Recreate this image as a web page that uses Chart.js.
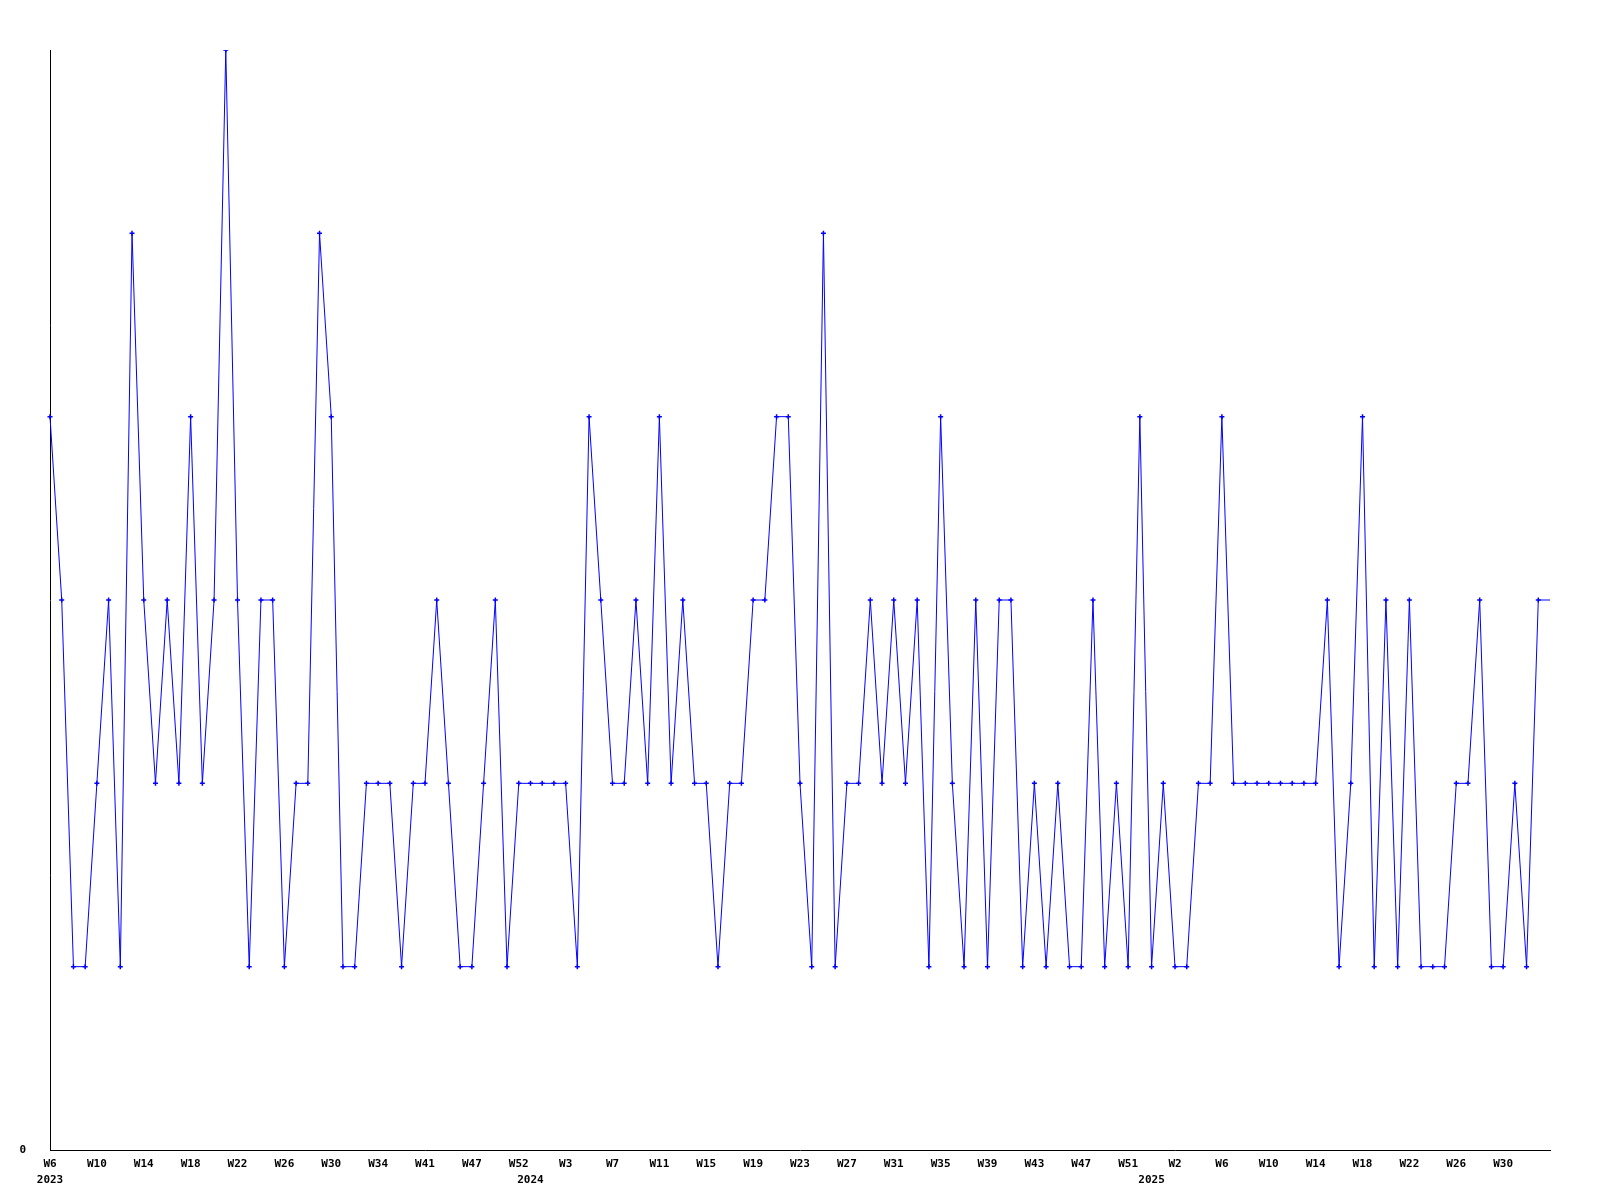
<!DOCTYPE html>
<html>
<head>
<meta charset="utf-8">
<script src="https://cdn.jsdelivr.net/npm/chart.js@4.4.1/dist/chart.umd.min.js"></script>
<style>
    html, body { margin: 0; padding: 0; background: #fff; }
    #wrap { width: 1600px; height: 1200px; }
</style>
</head>
<body>
<div id="wrap"><canvas id="weeklyChart" width="1600" height="1200"></canvas></div>
<script>
"use strict";

// categories: year-week, weeks with no entry are skipped
const weeks2023 = ['W6', 'W7', 'W8', 'W9', 'W10', 'W11', 'W12', 'W13', 'W14', 'W15',
    'W16', 'W17', 'W18', 'W19', 'W20', 'W21', 'W22', 'W23', 'W24', 'W25',
    'W26', 'W27', 'W28', 'W29', 'W30', 'W31', 'W32', 'W33', 'W34', 'W35',
    'W37', 'W39', 'W41', 'W42', 'W44', 'W45', 'W47', 'W48', 'W49', 'W51', 'W52'];
const weeks2024 = ['W0', 'W1', 'W2', 'W3', 'W4', 'W5', 'W6', 'W7', 'W8', 'W9',
    'W10', 'W11', 'W12', 'W13', 'W14', 'W15', 'W16', 'W17', 'W18', 'W19',
    'W20', 'W21', 'W22', 'W23', 'W24', 'W25', 'W26', 'W27', 'W28', 'W29',
    'W30', 'W31', 'W32', 'W33', 'W34', 'W35', 'W36', 'W37', 'W38', 'W39',
    'W40', 'W41', 'W42', 'W43', 'W44', 'W45', 'W46', 'W47', 'W48', 'W49',
    'W50', 'W51', 'W52'];
const weeks2025 = ['W0', 'W1', 'W2', 'W3', 'W4', 'W5', 'W6', 'W7', 'W8', 'W9',
    'W10', 'W11', 'W12', 'W13', 'W14', 'W15', 'W16', 'W17', 'W18', 'W19',
    'W20', 'W21', 'W22', 'W23', 'W24', 'W25', 'W26', 'W27', 'W28', 'W29',
    'W30', 'W31', 'W32', 'W33', 'W34'];

const counts2023 = [4, 3, 1, 1, 2, 3, 1, 5, 3, 2,
    3, 2, 4, 2, 3, 6, 3, 1, 3, 3,
    1, 2, 2, 5, 4, 1, 1, 2, 2, 2,
    1, 2, 2, 3, 2, 1, 1, 2, 3, 1, 2];
const counts2024 = [2, 2, 2, 2, 1, 4, 3, 2, 2, 3,
    2, 4, 2, 3, 2, 2, 1, 2, 2, 3,
    3, 4, 4, 2, 1, 5, 1, 2, 2, 3,
    2, 3, 2, 3, 1, 4, 2, 1, 3, 1,
    3, 3, 1, 2, 1, 2, 1, 1, 3, 1,
    2, 1, 4];
const counts2025 = [1, 2, 1, 1, 2, 2, 4, 2, 2, 2,
    2, 2, 2, 2, 2, 3, 1, 2, 4, 1,
    3, 1, 3, 1, 1, 1, 2, 2, 3, 1,
    1, 2, 1, 3, 3];

const yTicks = [0];

document.addEventListener('DOMContentLoaded', function () {
    const labels = [].concat(
        weeks2023.map(w => '2023-' + w),
        weeks2024.map(w => '2024-' + w),
        weeks2025.map(w => '2025-' + w)
    );
    const values = [].concat(counts2023, counts2024, counts2025);
    const lastIndex = values.length - 1;

    const tickFont = { family: '"DejaVu Sans Mono", monospace', size: 11, weight: 'bold', lineHeight: '16px' };

    new Chart(document.getElementById('weeklyChart'), {
        type: 'line',
        data: {
            labels: labels,
            datasets: [{
                data: values,
                borderColor: '#0000ff',
                backgroundColor: '#0000ff',
                borderWidth: 1,
                tension: 0,
                pointStyle: 'cross',
                pointRadius: ctx => ctx.dataIndex === lastIndex ? 0 : 2.5,
                pointBorderWidth: 1.5,
                pointBorderColor: '#0000ff'
            }]
        },
        options: {
            responsive: false,
            animation: false,
            layout: { padding: { top: 50, right: 50, left: 0, bottom: 0 } },
            plugins: {
                legend: { display: false },
                tooltip: { enabled: false }
            },
            scales: {
                x: {
                    type: 'category',
                    grid: { display: false, drawTicks: false },
                    border: { display: true, color: '#000', width: 1 },
                    afterFit: scale => { scale.height = 50; },
                    ticks: {
                        autoSkip: false,
                        maxRotation: 0,
                        minRotation: 0,
                        padding: 6,
                        color: '#000',
                        font: tickFont,
                        callback: function (value, index) {
                            const parts = labels[index].split('-');
                            const newYear = index === 0 || labels[index - 1].split('-')[0] !== parts[0];
                            const showWeek = index % 4 === 0 && index !== lastIndex;
                            return [showWeek ? parts[1] : '', newYear ? parts[0] : ''];
                        }
                    }
                },
                y: {
                    min: 0,
                    max: 6,
                    grid: { display: false, drawTicks: false },
                    border: { display: true, color: '#000', width: 1 },
                    afterFit: scale => { scale.width = 50; },
                    afterBuildTicks: scale => { scale.ticks = yTicks.map(v => ({ value: v })); },
                    ticks: {
                        padding: 24,
                        color: '#000',
                        font: tickFont
                    }
                }
            }
        }
    });
});
</script>
</body>
</html>
